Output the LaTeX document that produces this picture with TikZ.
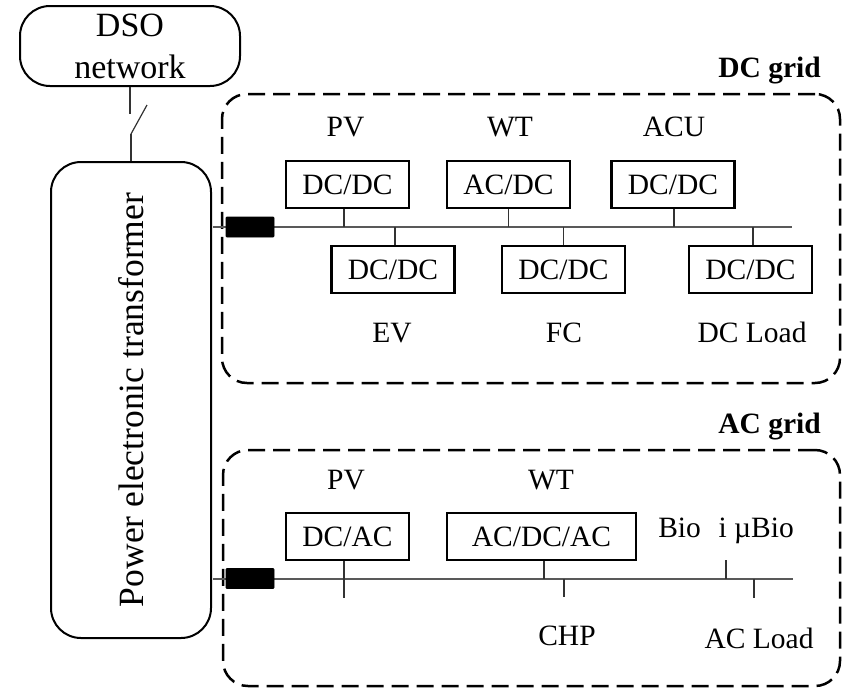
\documentclass[tikz,border=0pt]{standalone}
\usepackage{fontspec}
\setmainfont{Liberation Serif}
\begin{document}
\begin{tikzpicture}[x=1pt,y=-1pt,
  lbl/.style={font=\fontsize{29.5}{34}\selectfont, inner sep=0pt, anchor=base},
  gridname/.style={font=\fontsize{29.5}{34}\selectfont\bfseries, inner sep=0pt, anchor=base east},
  conv/.style={draw, line width=2.2pt, minimum width=123pt, minimum height=47pt,
    inner sep=0pt, font=\fontsize{29.5}{34}\selectfont},
  gridbox/.style={draw, line width=2.5pt, dash pattern=on 17pt off 8pt,
    rounded corners=25pt, inner sep=0pt},
  unit/.style={draw, line width=2pt, rounded corners=30pt, inner sep=0pt},
  bus/.style={draw=black!65, line width=1.3pt},
  stem/.style={draw=black!80, line width=1.2pt},
  breaker/.style={fill=black, draw=black, line width=0.8pt, minimum width=48pt,
    minimum height=20pt, inner sep=0pt, rounded corners=1pt}
]
\useasboundingbox (0,0) rectangle (842,688);

% distribution network and power electronic transformer
\node[unit, minimum width=220pt, minimum height=80pt, align=center,
  font=\fontsize{34}{42}\selectfont] (dso) at (130,46) {DSO\\network};
\node[unit, rotate=90, minimum width=476pt, minimum height=160pt,
  font=\fontsize{35.5}{40}\selectfont] (pet) at (131,400) {Power electronic transformer};

% disconnect switch between DSO and transformer
\coordinate (swtop) at ([yshift=-27pt]dso.south);
\coordinate (swbot) at ([yshift=27pt]pet.east);
\draw[stem] (dso.south) -- (swtop);
\draw[stem] (swbot) -- ++(16,-29);
\draw[stem] (swbot) -- (pet.east);

% grid enclosures
\node[gridbox, minimum width=618pt, minimum height=289pt] (dcgrid) at (531,238.5) {};
\node[gridbox, minimum width=617pt, minimum height=236pt] (acgrid) at (531.5,568) {};
\node[gridname] (dcname) at (821,77) {DC grid};
\node[gridname] (acname) at (821,433) {AC grid};

% ---------------- DC grid ----------------
\coordinate (dcl) at (213,227);
\coordinate (dcr) at (792,227);
\draw[bus] (dcl) -- (dcr);
\node[breaker] (dcbrk) at (250,227) {};

\node[conv] (pvdc) at (347.5,184.5) {DC/DC};
\node[conv] (wtdc) at (508.5,184.5) {AC/DC};
\node[conv] (acudc) at (673,184.5) {DC/DC};
\node[conv] (evdc) at (393,269.5) {DC/DC};
\node[conv] (fcdc) at (563.5,269.5) {DC/DC};
\node[conv] (lddc) at (750.5,269.5) {DC/DC};

\draw[stem] ([xshift=-3.5pt]pvdc.south) -- ([xshift=-3.5pt]pvdc.south |- dcl);
\draw[stem] (wtdc.south) -- (wtdc.south |- dcl);
\draw[stem] ([xshift=1pt]acudc.south) -- ([xshift=1pt]acudc.south |- dcl);
\draw[stem] ([xshift=2pt]evdc.north) -- ([xshift=2pt]evdc.north |- dcl);
\draw[stem] (fcdc.north) -- (fcdc.north |- dcl);
\draw[stem] ([xshift=2.5pt]lddc.north) -- ([xshift=2.5pt]lddc.north |- dcl);

\node[lbl] (pvlbl) at (345.5,136) {PV};
\node[lbl] (wtlbl) at (510,136) {WT};
\node[lbl] (aculbl) at (674,136) {ACU};
\node[lbl] (evlbl) at (392,342) {EV};
\node[lbl] (fclbl) at (564,342) {FC};
\node[lbl] (dcldlbl) at (752,342) {DC Load};

% ---------------- AC grid ----------------
\coordinate (acl) at (213,579);
\coordinate (acr) at (793,579);
\draw[bus] (acl) -- (acr);
\node[breaker] (acbrk) at (250,578.5) {};

\node[conv] (pvac) at (347.5,536.5) {DC/AC};
\node[conv, minimum width=189pt] (wtac) at (541.5,536.5) {AC/DC/AC};

\coordinate (chp) at (564,597);
\coordinate (bio) at (726,560);
\coordinate (acld) at (754,598);

\draw[stem] ([xshift=-3.5pt]pvac.south) -- ++(0,37);
\draw[stem] ([xshift=2.5pt]wtac.south) -- ([xshift=2.5pt]wtac.south |- acl);
\draw[stem] (chp |- acl) -- (chp);
\draw[stem] (bio) -- (bio |- acl);
\draw[stem] (acld |- acl) -- (acld);

\node[lbl] (pvlbl2) at (346,489) {PV};
\node[lbl] (wtlbl2) at (551,489) {WT};
\node[lbl] (biolbl) at (726,537) {Bio\hspace{0.6em}i µBio};
\node[lbl] (chplbl) at (567,645) {CHP};
\node[lbl] (acldlbl) at (759,648) {AC Load};
\end{tikzpicture}
\end{document}
